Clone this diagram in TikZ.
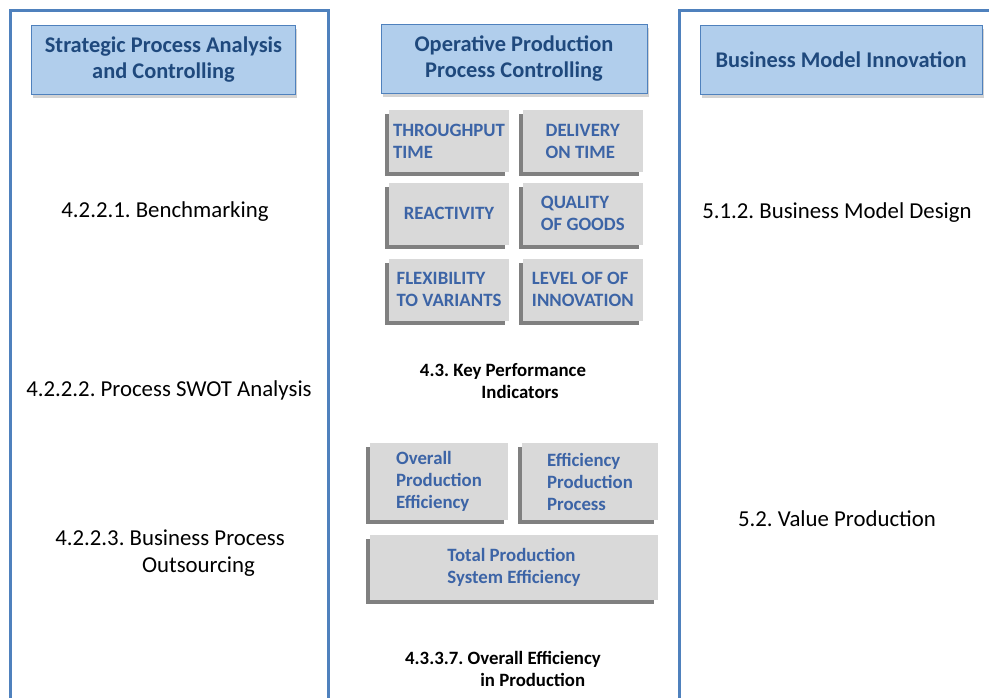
\documentclass[tikz,border=0pt]{standalone}
\usepackage{fontspec}
\setmainfont{Carlito}
\usetikzlibrary{positioning,shadows}
\frenchspacing

\definecolor{panelblue}{HTML}{4F81BD}
\definecolor{headfill}{HTML}{B1CEEC}
\definecolor{headtext}{HTML}{1F497D}
\definecolor{kpifill}{HTML}{D9D9D9}
\definecolor{kpitext}{HTML}{3C64A6}

\begin{document}
\begin{tikzpicture}[x=0.5pt, y=-0.5pt, node distance=5pt and 6.5pt]
    \tikzstyle{panel}=[draw=panelblue, line width=1.5pt]
    \tikzstyle{header}=[draw=panelblue, fill=headfill, text=headtext, align=center, font=\bfseries\fontsize{11.2}{13}\selectfont, minimum height=34.5pt, drop shadow={shadow xshift=0.8pt, shadow yshift=-1.5pt, opacity=0.35}]
    \tikzstyle{kpi}=[fill=kpifill, text=kpitext, align=left, font=\bfseries\fontsize{9.4}{11}\selectfont, minimum width=60pt, minimum height=31pt, inner sep=2pt, drop shadow={shadow xshift=-2pt, shadow yshift=-2pt, fill=black!50, opacity=1}]
    \tikzstyle{topic}=[align=left, font=\fontsize{11.4}{13.5}\selectfont]
    \tikzstyle{kpilabel}=[align=left, font=\bfseries\fontsize{9.4}{11}\selectfont]

    \useasboundingbox (0,0) rectangle (989,697);

    % panels
    \draw[panel] (10,700) -- (10,10) -- (328,10) -- (328,700);
    \draw[panel] (679,700) -- (679,10) -- (995,10);

    % headers
    \node[header, minimum width=132pt] (strategic) at (163.5,60) {Strategic Process Analysis\\and Controlling};
    \node[header, minimum width=133pt] (operative) at (514,59) {Operative Production\\Process Controlling};
    \node[header, minimum width=141pt] (bmi) at (841,60) {Business Model Innovation};

    % key performance indicators
    \node[kpi] (throughput) at (449,141) {THROUGHPUT\\TIME};
    \node[kpi] (delivery)[right=of throughput] {DELIVERY\\ON TIME};
    \node[kpi] (reactivity)[below=of throughput] {REACTIVITY};
    \node[kpi] (quality)[right=of reactivity] {QUALITY\\OF GOODS};
    \node[kpi] (flexibility)[below=6.5pt of reactivity] {FLEXIBILITY\\TO VARIANTS};
    \node[kpi] (innovation)[right=of flexibility] {LEVEL OF OF\\INNOVATION};

    \node[kpilabel] (kpis) at (503,382) {4.3. Key Performance\\\phantom{4.3. Key}Indicators};

    % efficiency
    \node[kpi, minimum width=69pt, minimum height=38.5pt] (ope) at (439,481.5) {Overall\\Production\\Efficiency};
    \node[kpi, minimum width=68pt, minimum height=38.5pt] (epp) at (590,481.5) {Efficiency\\Production\\Process};
    \node[kpi, minimum width=144pt, minimum height=32.5pt] (tpse) at (514,567.5) {Total Production\\System Efficiency};

    \node[kpilabel] (oep) at (503,669) {4.3.3.7. Overall Efficiency\\\phantom{4.3.3.7.\ O}in Production};

    % left column
    \node[topic] (benchmarking) at (165,212) {4.2.2.1. Benchmarking};
    \node[topic] (swot) at (169,390) {4.2.2.2. Process SWOT Analysis};
    \node[topic] (outsourcing) at (170,553) {4.2.2.3. Business Process\\\phantom{4.2.2.3.\ B}Outsourcing};

    % right column
    \node[topic] (design) at (837,213) {5.1.2. Business Model Design};
    \node[topic] (value) at (837,519) {5.2. Value Production};
\end{tikzpicture}
\end{document}
